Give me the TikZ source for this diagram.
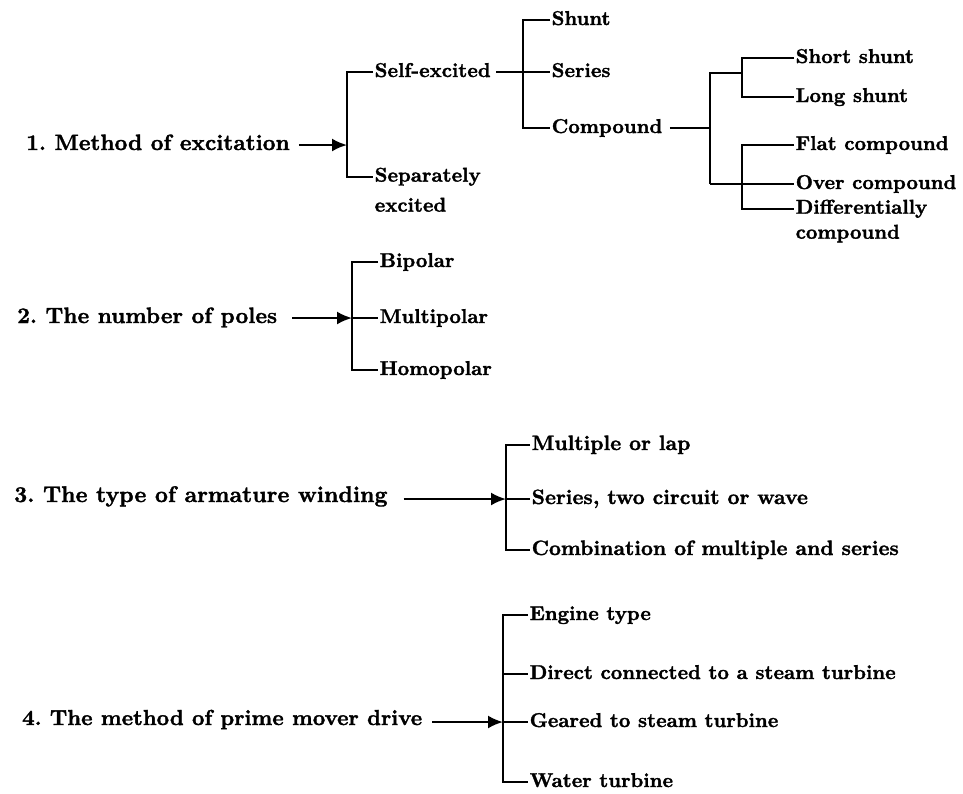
\documentclass[tikz,border=0pt]{standalone}
\usepackage{fontspec}
\setmainfont{lmroman10-regular.otf}[BoldFont=lmroman10-bold.otf,BoldFeatures={FakeBold=1.5}]
\usetikzlibrary{arrows.meta}

\begin{document}
\begin{tikzpicture}[x=1pt,y=-1pt,
    link/.style={line width=2.2pt,-{Latex[length=15pt,width=13pt]}},
    rail/.style={line width=2.4pt},
    head/.style={anchor=west,inner sep=0pt,text height=15pt,text depth=5pt,font=\fontsize{22.2}{26}\selectfont\bfseries\frenchspacing},
    leaf/.style={anchor=west,inner sep=1.5pt,text height=14pt,text depth=4pt,font=\fontsize{20}{24}\selectfont\bfseries},
    twoline/.style={anchor=north west,inner sep=1.5pt,align=left,font=\fontsize{20}{25}\selectfont\bfseries}]
            \useasboundingbox (0,0) rectangle (963,793);

            \node[head] (exc) at (26,145) {1. Method of excitation};
            \coordinate (b1t) at (347,72);
            \coordinate (b1m) at (347,145);
            \coordinate (b1b) at (347,177);
            \node[leaf] (self) at (373,72) {Self-excited};
            \node[twoline] (sep) at (373,166) {Separately\\[5pt]excited};
            \draw[rail] (self.west) -- (b1t) -- (b1b) -- (sep.west |- b1b);
            \draw[link,shorten <=9pt] (exc.east) -- (b1m);

            \coordinate (b2t) at (523,20);
            \coordinate (b2m) at (523,72);
            \coordinate (b2b) at (523,128);
            \node[leaf] (shunt) at (550,20) {Shunt};
            \node[leaf] (series) at (550,72) {Series};
            \node[leaf] (comp) at (550,128) {Compound};
            \draw[rail] (shunt.west) -- (b2t) -- (b2b) -- (comp.west);
            \draw[rail] (b2m) -- (series.west);
            \draw[rail,shorten <=4pt] (self.east) -- (b2m);

            \coordinate (b3t) at (710,73);
            \coordinate (b3m) at (710,128);
            \coordinate (b3b) at (710,184);
            \draw[rail,shorten <=6pt] (comp.east) -- (b3m);

            \coordinate (b4t) at (742,58);
            \coordinate (b4b) at (742,97);
            \node[leaf] (short) at (794,58) {Short shunt};
            \node[leaf] (long) at (794,97) {Long shunt};
            \draw[rail] (short.west) -- (b4t) -- (b4b) -- (long.west);
            \draw[rail] (b4t |- b3t) -- (b3t) -- (b3b);

            \coordinate (b5t) at (742,145);
            \coordinate (b5b) at (742,209);
            \node[leaf] (flat) at (794,145) {Flat compound};
            \node[leaf] (over) at (794,184) {Over compound};
            \node[twoline] (diff) at (794,198) {Differentially\\compound};
            \draw[rail] (flat.west) -- (b5t) -- (b5b) -- (diff.west |- b5b);
            \draw[rail] (b3b) -- (over.west);

            \node[head] (poles) at (17,318) {2. The number of poles};
            \coordinate (b6t) at (352,262);
            \coordinate (b6m) at (352,318);
            \coordinate (b6b) at (352,370);
            \node[leaf] (bi) at (378,262) {Bipolar};
            \node[leaf] (multi) at (378,318) {Multipolar};
            \node[leaf] (homo) at (378,370) {Homopolar};
            \draw[rail] (bi.west) -- (b6t) -- (b6b) -- (homo.west);
            \draw[rail] (b6m) -- (multi.west);
            \draw[link,shorten <=15pt] (poles.east) -- (b6m);

            \node[head,font=\fontsize{22.6}{27}\selectfont\bfseries\frenchspacing] (wind) at (14,497) {3. The type of armature winding};
            \coordinate (b7t) at (506,445);
            \coordinate (b7m) at (506,499);
            \coordinate (b7b) at (506,550);
            \node[leaf,font=\fontsize{20.8}{25}\selectfont\bfseries] (lap) at (530,445) {Multiple or lap};
            \node[leaf,font=\fontsize{20.8}{25}\selectfont\bfseries] (wave) at (530,499) {Series, two circuit or wave};
            \node[leaf,font=\fontsize{20.8}{25}\selectfont\bfseries] (combo) at (530,550) {Combination of multiple and series};
            \draw[rail] (lap.west) -- (b7t) -- (b7b) -- (combo.west);
            \draw[rail] (b7m) -- (wave.west);
            \draw[link,shorten <=16pt] (wind.east |- b7m) -- (b7m);

            \node[head,font=\fontsize{21.7}{26}\selectfont\bfseries\frenchspacing] (drive) at (22,720) {4. The method of prime mover drive};
            \coordinate (b8t) at (503,615);
            \coordinate (b8a) at (503,674);
            \coordinate (b8m) at (503,722);
            \coordinate (b8b) at (503,782);
            \node[leaf] (engine) at (528,615) {Engine type};
            \node[leaf] (direct) at (528,674) {Direct connected to a steam turbine};
            \node[leaf] (geared) at (528,722) {Geared to steam turbine};
            \node[leaf] (water) at (528,782) {Water turbine};
            \draw[rail] (engine.west) -- (b8t) -- (b8b) -- (water.west);
            \draw[rail] (b8a) -- (direct.west);
            \draw[rail] (b8m) -- (geared.west);
            \draw[link,shorten <=10pt] (drive.east |- b8m) -- (b8m);
        \end{tikzpicture}
\end{document}
